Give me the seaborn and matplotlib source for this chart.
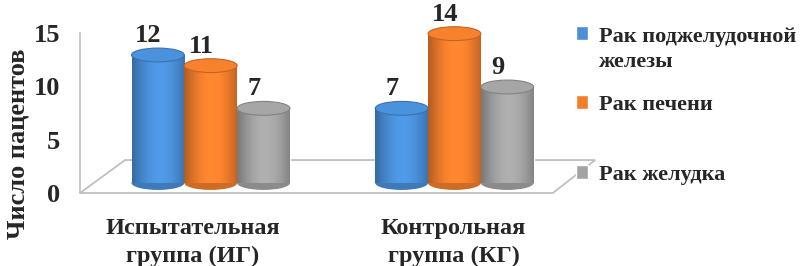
import numpy as np
import pandas as pd
import seaborn as sns
import matplotlib
matplotlib.use("Agg")
import matplotlib.pyplot as plt
from matplotlib.patches import Ellipse, Polygon, Rectangle
from matplotlib.legend_handler import HandlerPatch
import matplotlib.colors as mcolors
import matplotlib.transforms as mtransforms

groups = ["Испытательная\nгруппа (ИГ)", "Контрольная\nгруппа (КГ)"]
series = ["Рак поджелудочной\nжелезы", "Рак печени", "Рак желудка"]
pancreas = [12, 7]
liver = [11, 14]
stomach = [7, 9]
colors = ["#4A8FD8", "#F27E2C", "#A3A3A3"]
yticks = [0, 5, 10, 15]

rows = []
for s, vals in zip(series, [pancreas, liver, stomach]):
    for g, v in zip(groups, vals):
        rows.append({"group": g, "series": s, "value": v})
df = pd.DataFrame(rows)

sns.set_style("white")
plt.rcParams["font.family"] = ["Liberation Serif", "DejaVu Serif"]
plt.rcParams["font.weight"] = "bold"

fig = plt.figure(figsize=(8, 2.66), dpi=100)
ax = fig.add_axes([80 / 800, 1 - 193 / 266, 485 / 800, 160 / 266])

sns.barplot(data=df, x="group", y="value", hue="series", palette=colors,
            width=0.65, ax=ax, legend=True, saturation=1, zorder=3)

bars = [p for p in ax.patches
        if isinstance(p, Rectangle) and p.get_height() > 0 and 0 < p.get_width() < 0.5]

XLIM = (-0.52, 1.47)
ax.set_ylim(0, 15)
ax.set_xlim(*XLIM)
ax.set_yticks(yticks)
ax.set_yticklabels([str(t) for t in yticks], fontsize=19, fontweight="bold")
ax.tick_params(axis="y", length=6, width=1.2, color="#BFBFBF", pad=8)
ax.tick_params(axis="x", length=0, pad=18)
ax.set_xticks([0, 1])
ax.set_xticklabels(groups, fontsize=17.5, fontweight="bold", linespacing=1.45)
ax.set_xticks([-0.52, 0.436, 1.409], minor=True)
ax.tick_params(axis="x", which="minor", length=6, width=1.2, color="#BFBFBF")
label_dx = [-14, 3]
for lab, dx in zip(ax.get_xticklabels(), label_dx):
    lab.set_transform(lab.get_transform() +
                      mtransforms.ScaledTranslation(dx / 100, 0, fig.dpi_scale_trans))
ax.set_xlabel("")
ax.set_ylabel("Число пацентов", fontsize=19, fontweight="bold")
ax.yaxis.set_label_coords(-0.104, 0.31)
for sp in ["top", "right", "bottom"]:
    ax.spines[sp].set_visible(False)
ax.spines["left"].set_color("#BFBFBF")
ax.spines["left"].set_linewidth(1.2)

# floor (decorative perspective)
floor = Polygon([(0.0, 0.0), (0.093, 0.206), (1.062, 0.206), (0.975, 0.0)],
                closed=True, fill=False, edgecolor="#BFBFBF", lw=1.3,
                transform=ax.transAxes, clip_on=False, zorder=1)
ax.add_patch(floor)

# cylinders stand in the middle of the floor depth
depth = ax.transData + mtransforms.ScaledTranslation(4 / 100, 10 / 100, fig.dpi_scale_trans)

for p in bars:
    x0, w, h = p.get_x(), p.get_width(), p.get_height()
    p.set_transform(depth)
    p.set_clip_on(False)
    base = np.array(mcolors.to_rgb(p.get_facecolor()))
    grad = np.linspace(0, 1, 64)
    shade = 0.72 + 0.36 * np.sin(np.pi * (grad * 0.9 + 0.02))
    img = np.clip(base[None, None, :] * shade[None, :, None], 0, 1)
    im = ax.imshow(img, extent=[x0, x0 + w, 0, h], aspect="auto", zorder=3.5,
                   interpolation="bilinear")
    im.set_transform(depth)
    im.set_clip_path(p)
    ax.add_patch(Ellipse((x0 + w / 2, 0), w, 1.3, facecolor=tuple(base * 0.85),
                         edgecolor="none", zorder=3.2, clip_on=False, transform=depth))
    ax.add_patch(Ellipse((x0 + w / 2, h), w, 1.3,
                         facecolor=tuple(np.clip(base * 1.02, 0, 1)),
                         edgecolor=tuple(base * 0.8), lw=0.8, zorder=4,
                         clip_on=False, transform=depth))
    ax.text(x0 + w / 2 - 0.04, h + 0.75, f"{int(h)}", ha="center", va="bottom",
            fontsize=19, fontweight="bold", zorder=5, transform=depth)
ax.set_xlim(*XLIM)
ax.set_ylim(0, 15)

handles, labels = ax.get_legend_handles_labels()
ax.get_legend().remove()


def up_patch(legend, orig_handle, xdescent, ydescent, width, height, fontsize):
    return Rectangle((-xdescent, -ydescent + 0.72 * fontsize), width, height)


leg_prop = {"family": ["Liberation Serif"], "weight": "bold", "size": 16}
leg_y = [35, 105, 175]
for i, (hd, lb) in enumerate(zip(handles, labels)):
    kw = {}
    if "\n" in lb:
        kw["handler_map"] = {hd: HandlerPatch(patch_func=up_patch)}
        loc = "upper left"
        anchor = (576 / 800, 1 - (leg_y[i] - 8) / 266)
    else:
        loc = "center left"
        anchor = (576 / 800, 1 - leg_y[i] / 266)
    lg = fig.legend([hd], [lb], loc=loc, bbox_to_anchor=anchor, frameon=False,
                    handlelength=0.55, handleheight=0.55, handletextpad=0.5,
                    borderpad=0.0, borderaxespad=0.0, prop=leg_prop, **kw)
    for t in lg.get_texts():
        t.set_linespacing(1.32)

fig.savefig("out.png", dpi=100)
